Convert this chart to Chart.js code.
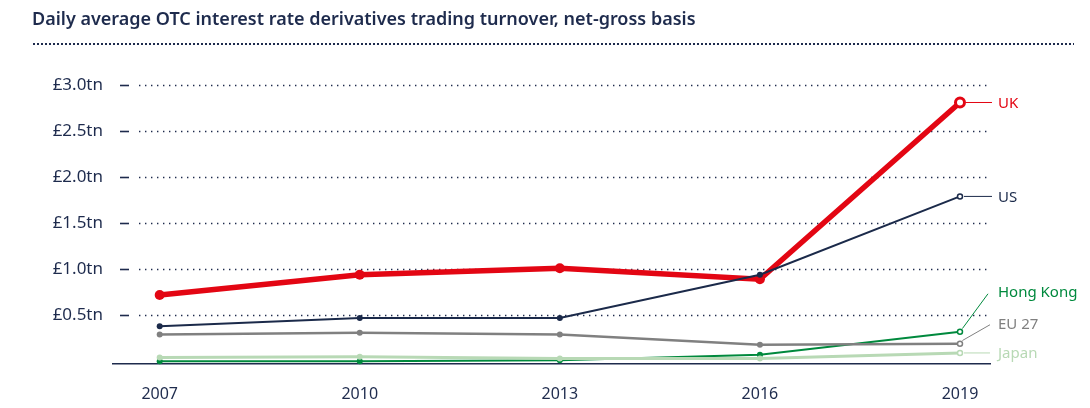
<!DOCTYPE html>
<html>
<head>
<meta charset="utf-8">
<script src="https://cdn.jsdelivr.net/npm/chart.js@4/dist/chart.umd.min.js"></script>
<style>
  html, body { margin: 0; padding: 0; background: #fff; }
  #wrap { position: relative; width: 1090px; height: 408px; overflow: hidden; }
  #title {
    position: absolute; left: 32px; top: 6px;
    font-family: "Noto Sans", sans-serif; font-weight: 600; font-size: 18px;
    color: #1e2b4d; white-space: nowrap;
  }
  #rule {
    position: absolute; left: 32px; top: 43px; width: 1042px; height: 2px;
    background-image: radial-gradient(circle, #1e2b4d 0.9px, transparent 1.1px);
    background-size: 4px 2px; background-repeat: repeat-x;
  }
  canvas { position: absolute; left: 0; top: 0; }
</style>
</head>
<body>
<div id="wrap">
  <canvas id="myChart" width="1090" height="408"></canvas>
  <div id="title">Daily average OTC interest rate derivatives trading turnover, net-gross basis</div>
  <div id="rule"></div>
</div>
<script>
const years = [2007, 2010, 2013, 2016, 2019];
const ukValues = [0.72, 0.94, 1.01, 0.89, 2.81];
const usValues = [0.38, 0.47, 0.47, 0.94, 1.79];
const eu27Values = [0.29, 0.31, 0.29, 0.18, 0.19];
const hongKongValues = [0.00, 0.00, 0.01, 0.07, 0.32];
const japanValues = [0.04, 0.05, 0.03, 0.03, 0.09];
const yTicks = [0.5, 1.0, 1.5, 2.0, 2.5, 3.0];
const yTickLabels = ['£0.5tn', '£1.0tn', '£1.5tn', '£2.0tn', '£2.5tn', '£3.0tn'];

const NAVY = '#1e2b4d';
const FONT = '"Noto Sans", sans-serif';

const toPoints = vals => years.map((yr, i) => ({ x: yr, y: vals[i] }));

// last point is drawn hollow
function series(label, vals, color, width, r, lastBorder) {
  const n = vals.length;
  return {
    label: label,
    data: toPoints(vals),
    borderColor: color,
    borderWidth: width,
    pointRadius: vals.map((v, i) => i === n - 1 ? r - 0.5 : r),
    pointBackgroundColor: vals.map((v, i) => i === n - 1 ? '#fff' : color),
    pointBorderColor: color,
    pointBorderWidth: vals.map((v, i) => i === n - 1 ? lastBorder : 0),
    tension: 0,
    clip: false,
    labelColor: color
  };
}

// where each end label sits, relative to the last point
const endLabels = {
  'UK':        { dx: 38, dy: 0,   ex: 32, ey: 0 },
  'US':        { dx: 38, dy: 0,   ex: 32, ey: 0 },
  'Hong Kong': { dx: 38, dy: -40, ex: 28, ey: -38 },
  'EU 27':     { dx: 38, dy: -20, ex: 30, ey: -19 },
  'Japan':     { dx: 38, dy: 0,   ex: 30, ey: 0 }
};

const gridPlugin = {
  id: 'dotGrid',
  beforeDatasetsDraw(chart) {
    const { ctx, chartArea, scales } = chart;
    ctx.save();
    yTicks.forEach(t => {
      const y = Math.round(scales.y.getPixelForValue(t)) + 0.5;
      ctx.strokeStyle = NAVY;
      ctx.lineWidth = 1.6;
      ctx.setLineDash([]);
      ctx.beginPath();
      ctx.moveTo(chartArea.left + 7, y);
      ctx.lineTo(chartArea.left + 16, y);
      ctx.stroke();
      ctx.lineWidth = 1.4;
      ctx.setLineDash([1.4, 4.6]);
      ctx.beginPath();
      ctx.moveTo(chartArea.left + 26, y);
      ctx.lineTo(chartArea.right - 2, y);
      ctx.stroke();
    });
    ctx.restore();
  },
  afterDatasetsDraw(chart) {
    const { ctx } = chart;
    ctx.save();
    chart.data.datasets.forEach((ds, di) => {
      const meta = chart.getDatasetMeta(di);
      const last = meta.data[meta.data.length - 1];
      const pos = endLabels[ds.label];
      const r = (ds.pointRadius[ds.pointRadius.length - 1] || 3) + 1.5;
      ctx.strokeStyle = ds.labelColor;
      ctx.lineWidth = 1;
      ctx.setLineDash([]);
      ctx.beginPath();
      if (pos.ey === 0) {
        ctx.moveTo(last.x + r, last.y);
      } else {
        ctx.moveTo(last.x + r * 0.6, last.y - r * 0.8);
      }
      ctx.lineTo(last.x + pos.ex, last.y + pos.ey);
      ctx.stroke();
      ctx.fillStyle = ds.labelColor;
      ctx.font = '15px ' + FONT;
      ctx.textAlign = 'left';
      ctx.textBaseline = 'middle';
      ctx.fillText(ds.label, last.x + pos.dx, last.y + pos.dy + 1);
    });
    ctx.restore();
  }
};

new Chart(document.getElementById('myChart'), {
  type: 'line',
  data: {
    datasets: [
      series('Japan', japanValues, '#b8d9b5', 3, 3, 1.5),
      series('EU 27', eu27Values, '#808080', 2.5, 3, 1.5),
      series('Hong Kong', hongKongValues, '#00893d', 2, 3, 1.5),
      series('US', usValues, '#1b2a4a', 2, 3, 1.5),
      series('UK', ukValues, '#e30613', 5.5, 5, 3)
    ]
  },
  options: {
    responsive: false,
    animation: false,
    layout: { padding: { top: 85, right: 100, left: 0, bottom: 0 } },
    plugins: { legend: { display: false }, tooltip: { enabled: false } },
    scales: {
      x: {
        type: 'linear',
        min: 2006.3,
        max: 2019.45,
        afterBuildTicks: s => { s.ticks = years.map(v => ({ value: v })); },
        afterFit: s => { s.height = 44; },
        grid: { display: false, drawTicks: false },
        border: { display: true, color: NAVY, width: 1.5 },
        ticks: {
          color: NAVY,
          padding: 21,
          font: { family: FONT, size: 16 },
          callback: v => String(v)
        }
      },
      y: {
        min: -0.03,
        max: 3.0,
        afterBuildTicks: s => { s.ticks = yTicks.map(v => ({ value: v })); },
        afterFit: s => { s.width = 113; },
        grid: { display: false, drawTicks: false },
        border: { display: false },
        ticks: {
          color: NAVY,
          padding: 10,
          font: { family: FONT, size: 17 },
          callback: v => yTickLabels[yTicks.indexOf(v)]
        }
      }
    }
  },
  plugins: [gridPlugin]
});
</script>
</body>
</html>
